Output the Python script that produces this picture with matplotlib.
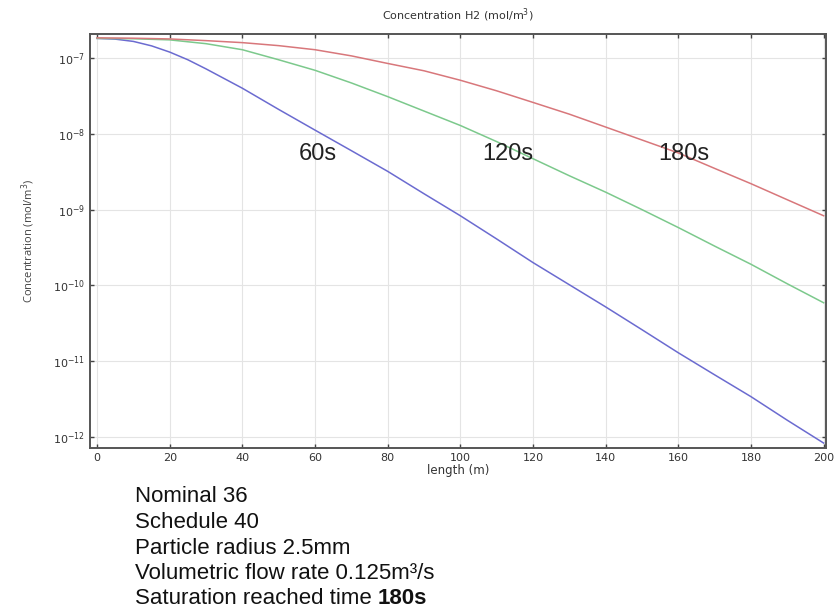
import matplotlib
matplotlib.use("Agg")
import matplotlib.pyplot as plt
from matplotlib.ticker import LogLocator, NullLocator, FixedLocator

# length along the bed (m)
length = [0, 10, 20, 30, 40, 50, 60, 70, 80, 90, 100,
          110, 120, 130, 140, 150, 160, 170, 180, 190, 200]
# the 60s curve bends sharply near the inlet, so it gets a few more readings there
length_60s = [0, 5, 10, 15, 20, 25, 30, 40, 50, 60, 70, 80, 90, 100,
              110, 120, 130, 140, 150, 160, 170, 180, 190, 200]

# H2 concentration (mol/m^3)
conc_60s = [1.82e-7, 1.78e-7, 1.66e-7, 1.45e-7, 1.20e-7, 9.5e-8, 7.2e-8, 4.0e-8, 2.1e-8, 1.12e-8,
            6.0e-9, 3.2e-9, 1.62e-9, 8.3e-10, 4.1e-10, 2.0e-10, 1.02e-10, 5.2e-11, 2.6e-11,
            1.29e-11, 6.6e-12, 3.4e-12, 1.66e-12, 8.3e-13]
conc_120s = [1.82e-7, 1.80e-7, 1.74e-7, 1.55e-7, 1.29e-7, 9.5e-8, 6.9e-8, 4.7e-8, 3.1e-8, 2.0e-8, 1.29e-8,
             7.9e-9, 4.7e-9, 2.8e-9, 1.70e-9, 1.0e-9, 5.8e-10, 3.3e-10, 1.9e-10, 1.05e-10, 5.9e-11]
conc_180s = [1.85e-7, 1.83e-7, 1.79e-7, 1.70e-7, 1.60e-7, 1.46e-7, 1.29e-7, 1.07e-7, 8.5e-8, 6.8e-8, 5.1e-8,
             3.7e-8, 2.6e-8, 1.82e-8, 1.23e-8, 8.3e-9, 5.6e-9, 3.5e-9, 2.2e-9, 1.35e-9, 8.3e-10]

curve_labels = ['60s', '120s', '180s']
label_x = [60.8, 113.1, 161.5]
label_y = 5.4e-9

notes = ['Nominal 36', 'Schedule 40', 'Particle radius 2.5mm',
         'Volumetric flow rate 0.125m\u00b3/s']
last_note = 'Saturation reached time '
last_note_bold = '180s'

plt.rcParams['mathtext.fontset'] = 'dejavusans'

fig = plt.figure(figsize=(8.35, 6.10), dpi=100)
ax = fig.add_axes([0.108, 0.266, 0.881, 0.678])

ax.plot(length_60s, conc_60s, color='#6b6bd0', lw=1.1)
ax.plot(length, conc_120s, color='#7cc98c', lw=1.1)
ax.plot(length, conc_180s, color='#d8777b', lw=1.1)

ax.set_yscale('log')
ax.set_xlim(-1.9, 200.6)
ax.set_ylim(7.2e-13, 2.07e-7)
ax.xaxis.set_major_locator(FixedLocator(range(0, 201, 20)))
ax.yaxis.set_major_locator(LogLocator(base=10, numticks=20))
ax.yaxis.set_minor_locator(NullLocator())

ax.grid(True, color='#e4e4e4', lw=0.8)
ax.tick_params(direction='in', length=3, width=1, colors='#444444', labelsize=8,
               top=True, right=True, labelcolor='#333333')
for s in ax.spines.values():
    s.set_color('#555555')
    s.set_linewidth(1.4)

ax.set_title('Concentration H2 (mol/m$^3$)', fontsize=8, color='#333333', pad=11)
ax.set_xlabel('length (m)', fontsize=8.5, color='#333333', labelpad=1)
ax.set_ylabel('Concentration (mol/m$^3$)', fontsize=8, color='#444444',
              family='Open Sans', labelpad=12)

for lab, xx in zip(curve_labels, label_x):
    ax.text(xx, label_y, lab, fontsize=17, family='Liberation Sans',
            color='#222222', ha='center', va='center')

y0 = 497
for i, line in enumerate(notes):
    fig.text(135 / 835, 1 - (y0 + i * 25.5) / 610, line, fontsize=16,
             family='Liberation Sans', color='#111111', va='center')
t = fig.text(135 / 835, 1 - (y0 + 4 * 25.5) / 610, last_note, fontsize=16,
             family='Liberation Sans', color='#111111', va='center')
fig.canvas.draw()
bb = t.get_window_extent()
fig.text(bb.x1 / fig.bbox.width, 1 - (y0 + 4 * 25.5) / 610, last_note_bold,
         fontsize=16, family='Liberation Sans', weight='bold', color='#111111', va='center')

fig.savefig('out.png', dpi=100, facecolor='white')
